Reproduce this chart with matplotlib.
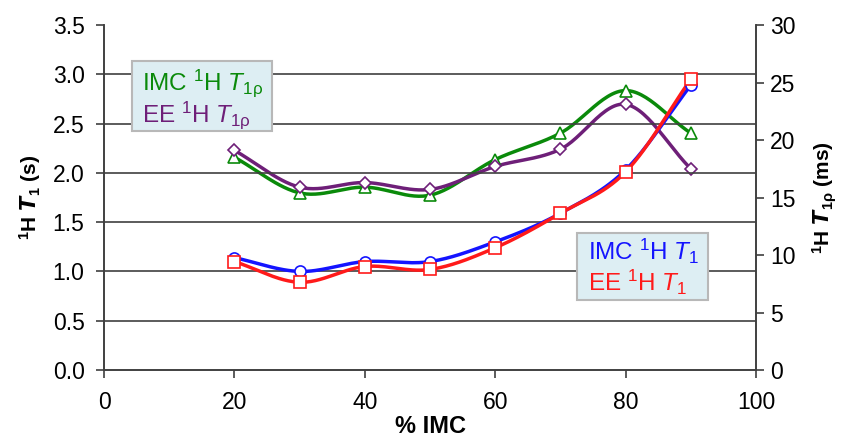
import numpy as np
import matplotlib
matplotlib.use("Agg")
import matplotlib.pyplot as plt
from matplotlib.patches import Rectangle

plt.rcParams["font.family"] = ["Liberation Sans", "DejaVu Sans"]
plt.rcParams["mathtext.fontset"] = "custom"
plt.rcParams["mathtext.rm"] = "Liberation Sans"
plt.rcParams["mathtext.it"] = "Liberation Sans:italic"
plt.rcParams["mathtext.bf"] = "Liberation Sans:bold"

# data
pct_imc = [20, 30, 40, 50, 60, 70, 80, 90]
imc_t1 = [1.14, 1.00, 1.10, 1.10, 1.30, 1.59, 2.03, 2.89]
ee_t1 = [1.10, 0.89, 1.05, 1.02, 1.24, 1.59, 2.01, 2.95]
imc_t1rho = [18.5, 15.4, 15.9, 15.2, 18.3, 20.6, 24.3, 20.6]
ee_t1rho = [19.1, 15.9, 16.3, 15.7, 17.7, 19.2, 23.1, 17.5]

GREEN, PURPLE, BLUE, RED = "#0a8a0a", "#6e1f78", "#1414ff", "#ff1a1a"


def smooth(x, y, n=30):
    """Excel-style smoothed line (Catmull-Rom through the points)."""
    x = np.asarray(x, float)
    y = np.asarray(y, float)
    px = np.concatenate([[2 * x[0] - x[1]], x, [2 * x[-1] - x[-2]]])
    py = np.concatenate([[2 * y[0] - y[1]], y, [2 * y[-1] - y[-2]]])
    xs, ys = [], []
    t = np.linspace(0, 1, n)
    for i in range(1, len(px) - 2):
        for p, out in ((px, xs), (py, ys)):
            p0, p1, p2, p3 = p[i - 1], p[i], p[i + 1], p[i + 2]
            out.extend(0.5 * (2 * p1 + (-p0 + p2) * t
                              + (2 * p0 - 5 * p1 + 4 * p2 - p3) * t ** 2
                              + (-p0 + 3 * p1 - 3 * p2 + p3) * t ** 3))
    return xs, ys


fig = plt.figure(figsize=(8.43, 4.42), dpi=100)
ax = fig.add_axes([0.1234, 0.1629, 0.7734, 0.7805])
ax2 = ax.twinx()

ax.set_xlim(0, 100)
ax.set_ylim(0, 3.5)
ax2.set_ylim(0, 30)
ax.set_xticks(range(0, 101, 20))
ax.set_yticks(np.arange(0, 3.51, 0.5))
ax.set_yticklabels([f"{v:.1f}" for v in np.arange(0, 3.51, 0.5)])
ax2.set_yticks(range(0, 31, 5))

for v in np.arange(0.5, 3.01, 0.5):
    ax.axhline(v, color="#404040", lw=1.2, zorder=0)

for a in (ax, ax2):
    a.spines["top"].set_visible(False)
    for s in ("left", "right", "bottom"):
        a.spines[s].set_color("#404040")
        a.spines[s].set_linewidth(1.2)
    a.tick_params(direction="out", length=6, width=1.2, color="#404040",
                  labelsize=16.5)
ax.tick_params(axis="x", pad=9)
ax.tick_params(axis="y", pad=8)
ax2.tick_params(axis="y", pad=4)

mk = dict(markerfacecolor="white", markeredgewidth=1.2, linestyle="none")

# T1rho on right axis
for yv, col, m, ms in ((imc_t1rho, GREEN, "^", 8), (ee_t1rho, PURPLE, "D", 6)):
    sx, sy = smooth(pct_imc, yv)
    ax2.plot(sx, sy, color=col, lw=2.5, zorder=3)
    ax2.plot(pct_imc, yv, marker=m, color=col, markersize=ms, zorder=4, **mk)

# T1 on left axis
ax.set_zorder(ax2.get_zorder() + 1)
ax.patch.set_visible(False)
for yv, col, m in ((imc_t1, BLUE, "o"), (ee_t1, RED, "s")):
    sx, sy = smooth(pct_imc, yv)
    ax.plot(sx, sy, color=col, lw=2.5, zorder=3)
    ax.plot(pct_imc, yv, marker=m, color=col, markersize=8, zorder=4, **mk)

ax.set_xlabel("% IMC", fontsize=17, fontweight="bold", labelpad=1)
ax.set_ylabel(r"$^{\mathbf{1}}$H $\boldsymbol{T}_{\mathbf{1}}$ (s)", fontsize=15,
              fontweight="bold", labelpad=7)
ax2.set_ylabel(r"$^{\mathbf{1}}$H $\boldsymbol{T}_{\mathbf{1ρ}}$ (ms)", fontsize=15,
               fontweight="bold", labelpad=11)

# text boxes used as legends
for x0, y0, x1, y1 in ((0.1566, 0.7036, 0.3227, 0.862), (0.6845, 0.3213, 0.8399, 0.4729)):
    fig.patches.append(Rectangle((x0, y0), x1 - x0, y1 - y0, transform=fig.transFigure,
                                 facecolor="#ddeef3", edgecolor="#b8b8b8", lw=1.5, zorder=5))

legend_txt = [
    (0.1684, 0.7964, r"IMC $^{1}$H $\mathit{T}_{\mathrm{1ρ}}$", GREEN),
    (0.1684, 0.7240, r"EE $^{1}$H $\mathit{T}_{\mathrm{1ρ}}$", PURPLE),
    (0.6975, 0.4118, r"IMC $^{1}$H $\mathit{T}_{1}$", BLUE),
    (0.6975, 0.3416, r"EE $^{1}$H $\mathit{T}_{1}$", RED),
]
for x, y, s, col in legend_txt:
    fig.text(x, y, s, fontsize=17.5, color=col, va="baseline", ha="left", zorder=6)

fig.savefig("out.png", dpi=100)
